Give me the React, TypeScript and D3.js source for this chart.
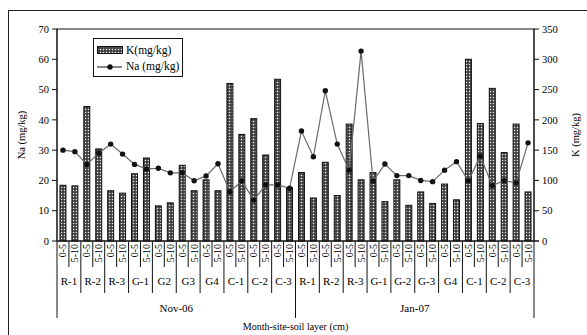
import React, { useRef, useEffect } from 'react';
import * as d3 from 'd3';

const months = ['Nov-06', 'Jan-07'];
const sitesNov = ['R-1', 'R-2', 'R-3', 'G-1', 'G2', 'G3', 'G4', 'C-1', 'C-2', 'C-3'];
const sitesJan = ['R-1', 'R-2', 'R-3', 'G-1', 'G-2', 'G-3', 'G4', 'C-1', 'C-2', 'C-3'];
const layers = ['0-5', '5-10'];

// K (mg/kg), right axis
const kValues = [
  92, 91, 222, 152, 83, 79, 111, 137, 58, 63, 125, 83, 101, 83, 260, 176, 202, 142, 267, 88,
  113, 71, 130, 75, 193, 101, 113, 65, 101, 59, 81, 62, 94, 68, 300, 194, 252, 146, 193, 81,
];
// Na (mg/kg), left axis
const naValues = [
  30.0, 29.5, 25.3, 29, 32, 28.7, 25.3, 23.8, 24, 22.5, 22.5, 19.9, 21.5, 25.5, 16.3, 19.8, 13.5, 18.5, 18.5, 17.4,
  36.3, 27.8, 49.6, 32, 23.4, 62.7, 19.8, 25.4, 21.6, 21.6, 20, 19.6, 23.4, 26.2, 19.9, 28, 18.3, 19.9, 19.2, 32.4,
];
const naTicks = [0, 10, 20, 30, 40, 50, 60, 70];
const kTicks = [0, 50, 100, 150, 200, 250, 300, 350];

const font = '"Liberation Serif", "DejaVu Serif", serif';

export default function App() {
  const svgRef = useRef<SVGSVGElement>(null);

  useEffect(() => {
    const svg = d3.select(svgRef.current);
    svg.selectAll('*').remove();

    const left = 57, right = 534, top = 29, bottom = 241;

    const idx = d3.range(kValues.length);
    const x = d3.scaleBand<number>().domain(idx).range([left, right]).padding(0);
    const yNa = d3.scaleLinear().domain([0, 70]).range([bottom, top]);
    const yK = d3.scaleLinear().domain([0, 350]).range([bottom, top]);
    const bw = x.bandwidth() * 0.5;
    const cx = (i: number) => (x(i) as number) + x.bandwidth() / 2;

    // dotted fill for the K bars
    const defs = svg.append('defs');
    const pat = defs.append('pattern')
      .attr('id', 'kpat')
      .attr('patternUnits', 'userSpaceOnUse')
      .attr('width', 3)
      .attr('height', 3);
    pat.append('rect').attr('width', 3).attr('height', 3).attr('fill', '#3a3a3a');
    pat.append('rect').attr('x', 0.8).attr('y', 0.8).attr('width', 1.4).attr('height', 1.4).attr('fill', '#f0f0f0');

    // outer frame
    svg.append('rect')
      .attr('x', 8.5).attr('y', 10.5)
      .attr('width', 600).attr('height', 340)
      .attr('fill', 'white').attr('stroke', '#222').attr('stroke-width', 1);

    // plot border
    svg.append('rect')
      .attr('x', left).attr('y', top)
      .attr('width', right - left).attr('height', bottom - top)
      .attr('fill', 'none').attr('stroke', '#111').attr('stroke-width', 1);

    // bars
    svg.append('g')
      .selectAll('rect')
      .data(kValues)
      .join('rect')
      .attr('x', (d, i) => cx(i) - bw / 2)
      .attr('y', (d) => yK(d))
      .attr('width', bw)
      .attr('height', (d) => bottom - yK(d))
      .attr('fill', 'url(#kpat)')
      .attr('stroke', '#111')
      .attr('stroke-width', 1);

    // Na line
    const line = d3.line<number>()
      .x((d, i) => cx(i))
      .y((d) => yNa(d));
    svg.append('path')
      .datum(naValues)
      .attr('d', line)
      .attr('fill', 'none')
      .attr('stroke', '#6a6a6a')
      .attr('stroke-width', 1.2);
    svg.append('g')
      .selectAll('circle')
      .data(naValues)
      .join('circle')
      .attr('cx', (d, i) => cx(i))
      .attr('cy', (d) => yNa(d))
      .attr('r', 2.7)
      .attr('fill', '#111');

    // left axis
    const gl = svg.append('g');
    gl.append('line').attr('x1', left).attr('x2', left).attr('y1', top).attr('y2', bottom).attr('stroke', '#111');
    gl.selectAll('line.t').data(naTicks).join('line').attr('class', 't')
      .attr('x1', left - 5).attr('x2', left).attr('y1', (d) => yNa(d)).attr('y2', (d) => yNa(d)).attr('stroke', '#111');
    gl.selectAll('text').data(naTicks).join('text')
      .attr('x', left - 8).attr('y', (d) => yNa(d)).attr('dy', '0.35em')
      .attr('text-anchor', 'end').attr('font-size', 10.5).attr('font-family', font).text((d) => d);

    // right axis
    const gr = svg.append('g');
    gr.append('line').attr('x1', right).attr('x2', right).attr('y1', top).attr('y2', bottom).attr('stroke', '#111');
    gr.selectAll('line.t').data(kTicks).join('line').attr('class', 't')
      .attr('x1', right).attr('x2', right + 5).attr('y1', (d) => yK(d)).attr('y2', (d) => yK(d)).attr('stroke', '#111');
    gr.selectAll('text').data(kTicks).join('text')
      .attr('x', right + 8).attr('y', (d) => yK(d)).attr('dy', '0.35em')
      .attr('text-anchor', 'start').attr('font-size', 10.5).attr('font-family', font).text((d) => d);

    // axis titles
    svg.append('text')
      .attr('transform', `translate(25,${(top + bottom) / 2}) rotate(-90)`)
      .attr('text-anchor', 'middle').attr('font-size', 10.5).attr('font-family', font)
      .text('Na (mg/kg)');
    svg.append('text')
      .attr('transform', `translate(579,${(top + bottom) / 2}) rotate(-90)`)
      .attr('text-anchor', 'middle').attr('font-size', 10.5).attr('font-family', font)
      .text('K (mg/kg)');

    // x axis: layer labels and dividers
    const gx = svg.append('g');
    gx.selectAll('text.layer').data(idx).join('text').attr('class', 'layer')
      .attr('transform', (i) => `translate(${cx(i)},${bottom + 3}) rotate(-90)`)
      .attr('text-anchor', 'end').attr('dy', '0.35em')
      .attr('font-size', 10).attr('font-family', font)
      .text((i) => layers[i % 2]);

    const edges = d3.range(kValues.length + 1);
    gx.selectAll('line.div').data(edges).join('line').attr('class', 'div')
      .attr('x1', (i) => left + i * x.step()).attr('x2', (i) => left + i * x.step())
      .attr('y1', bottom)
      .attr('y2', (i) => (i % 20 === 0 ? 318 : i % 2 === 0 ? 293 : 267))
      .attr('stroke', '#111');

    const siteIdx = d3.range(20);
    gx.selectAll('text.site').data(siteIdx).join('text').attr('class', 'site')
      .attr('x', (s) => left + (s * 2 + 1) * x.step())
      .attr('y', 285)
      .attr('text-anchor', 'middle').attr('font-size', 11).attr('font-family', font)
      .text((s) => (s < 10 ? sitesNov[s] : sitesJan[s - 10]));

    gx.selectAll('text.month').data(months).join('text').attr('class', 'month')
      .attr('x', (m, i) => left + (i * 20 + 10) * x.step())
      .attr('y', 312)
      .attr('text-anchor', 'middle').attr('font-size', 11).attr('font-family', font)
      .text((m) => m);

    gx.append('text')
      .attr('x', (left + right) / 2).attr('y', 330)
      .attr('text-anchor', 'middle').attr('font-size', 10).attr('font-family', font)
      .text('Month-site-soil layer (cm)');

    // x axis base line
    svg.append('line').attr('x1', left).attr('x2', right + 5).attr('y1', bottom).attr('y2', bottom).attr('stroke', '#111');

    // legend
    const lg = svg.append('g');
    lg.append('rect').attr('x', 93.5).attr('y', 38.5).attr('width', 89).attr('height', 38)
      .attr('fill', 'white').attr('stroke', '#111');
    lg.append('rect').attr('x', 97.5).attr('y', 46.5).attr('width', 25).attr('height', 7)
      .attr('fill', 'url(#kpat)').attr('stroke', '#111');
    lg.append('text').attr('x', 126).attr('y', 54).attr('font-size', 11.5).attr('font-family', font).text('K(mg/kg)');
    lg.append('line').attr('x1', 97).attr('x2', 122).attr('y1', 67).attr('y2', 67).attr('stroke', '#333').attr('stroke-width', 1.2);
    lg.append('circle').attr('cx', 110).attr('cy', 67).attr('r', 2.7).attr('fill', '#111');
    lg.append('text').attr('x', 126).attr('y', 70).attr('font-size', 11.5).attr('font-family', font).text('Na (mg/kg)');
  }, []);

  return (
    <svg
      ref={svgRef}
      width={587}
      height={335}
      style={{ position: 'absolute', left: 0, top: 0, background: 'white' }}
    />
  );
}
